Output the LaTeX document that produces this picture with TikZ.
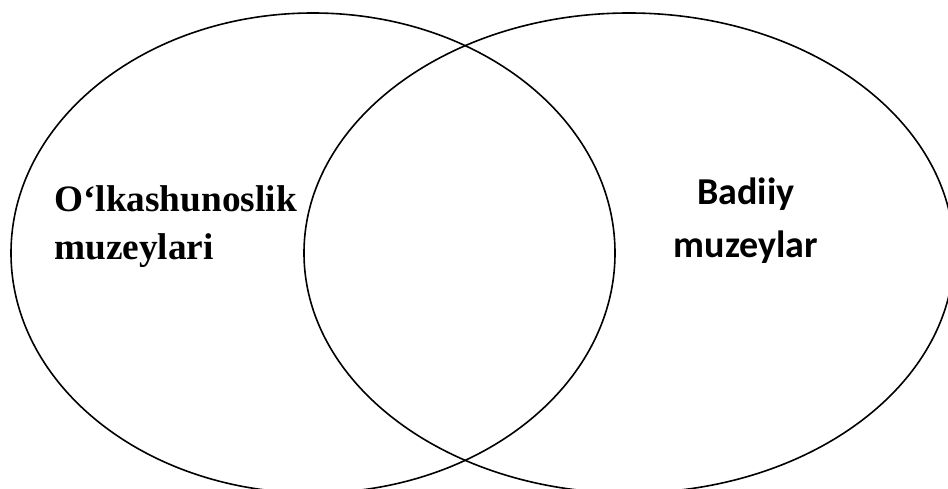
\documentclass[tikz,border=0pt]{standalone}
\usepackage{fontspec}
\setmainfont{Liberation Serif}
\newfontfamily\calfont{Carlito}
\begin{document}
\begin{tikzpicture}[x=1pt,y=1pt,
  venn/.style={draw=black,line width=1.6pt},
  lefttext/.style={inner sep=0pt,font=\fontsize{37.3}{42}\selectfont\bfseries},
  righttext/.style={inner sep=0pt,font=\fontsize{38}{42}\calfont\bfseries}]
\useasboundingbox (0,0) rectangle (948,488);
\clip (0,0) rectangle (948,488);
\draw[venn] (313,235) ellipse [x radius=302, y radius=240];
\draw[venn] (629,235) ellipse [x radius=325, y radius=240];
\node[lefttext,anchor=base west] (l1) at (54,276) {O‘lkashunoslik};
\node[lefttext,anchor=base west] (l2) at (54,228) {muzeylari};
\node[righttext,anchor=base] (r1) at (746,283) {Badiiy};
\node[righttext,anchor=base] (r2) at (746,230) {muzeylar};
\end{tikzpicture}
\end{document}
